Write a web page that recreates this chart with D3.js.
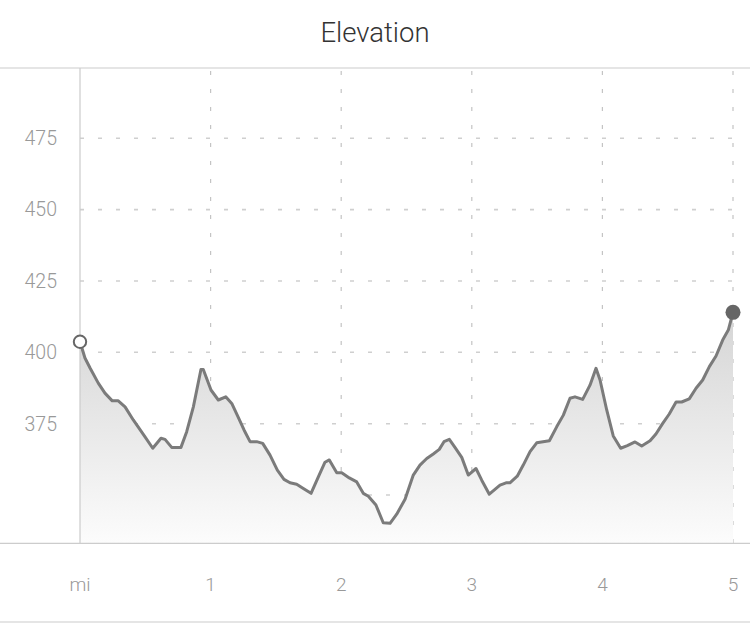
<!DOCTYPE html>
<html>
<head>
<meta charset="utf-8">
<script src="https://cdn.jsdelivr.net/npm/d3@7"></script>
<style>
  body { margin: 0; background: #fff; }
  text { font-family: Roboto, "Liberation Sans", sans-serif; }
</style>
</head>
<body>
<div id="chart"></div>
<script>
// distance along the route (miles) and elevation (ft)
var distance = [0, 0.038, 0.077, 0.140, 0.191, 0.247, 0.293, 0.345, 0.408, 0.498,
  0.557, 0.620, 0.651, 0.702, 0.773, 0.817, 0.868, 0.926, 0.944, 1.003,
  1.059, 1.116, 1.162, 1.212, 1.256, 1.302, 1.353, 1.399, 1.455, 1.511,
  1.562, 1.608, 1.659, 1.710, 1.769, 1.825, 1.876, 1.909, 1.966, 2.004,
  2.062, 2.119, 2.169, 2.208, 2.266, 2.322, 2.374, 2.425, 2.489, 2.552,
  2.603, 2.655, 2.705, 2.751, 2.787, 2.828, 2.871, 2.923, 2.973, 3.032,
  3.076, 3.134, 3.216, 3.262, 3.292, 3.348, 3.394, 3.446, 3.497, 3.594,
  3.650, 3.701, 3.752, 3.790, 3.849, 3.905, 3.951, 3.982, 4.033, 4.083,
  4.140, 4.191, 4.250, 4.301, 4.365, 4.410, 4.462, 4.512, 4.564, 4.607,
  4.665, 4.717, 4.768, 4.819, 4.870, 4.921, 4.964, 5.0];

var elevation = [403.7, 398.0, 394.5, 389.2, 385.7, 383.0, 383.0, 380.9, 376.3, 370.4,
  366.4, 369.9, 369.5, 366.7, 366.7, 372.2, 380.9, 394.0, 394.0, 386.8,
  383.3, 384.4, 382.1, 377.2, 372.8, 368.7, 368.7, 368.1, 364.0, 358.7,
  355.5, 354.3, 353.8, 352.3, 350.6, 356.4, 361.5, 362.3, 357.8, 357.8,
  356.0, 354.6, 350.6, 349.6, 346.5, 340.3, 340.1, 343.3, 348.5, 357.0,
  360.5, 362.8, 364.4, 366.0, 368.7, 369.5, 366.7, 363.2, 357.0, 359.3,
  355.2, 350.3, 353.5, 354.3, 354.3, 356.6, 360.5, 365.2, 368.3, 369.0,
  373.9, 378.0, 383.9, 384.4, 383.5, 388.5, 394.4, 390.3, 379.8, 370.7,
  366.4, 367.3, 368.6, 367.2, 369.0, 371.4, 375.1, 378.4, 382.6, 382.6,
  383.7, 387.4, 390.3, 395.0, 398.7, 404.3, 407.8, 414.0];

var xTicks = [0, 1, 2, 3, 4, 5];
var xTickLabels = ["mi", "1", "2", "3", "4", "5"];
var yGrid = [350, 375, 400, 425, 450, 475];
var yTickLabels = ["", "375", "400", "425", "450", "475"];

var data = distance.map(function(d, i) { return { d: d, e: elevation[i] }; });

var svgWidth = 750;
var svgHeight = 623;

var chartMargin = { top: 68, right: 17, bottom: 80, left: 80 };
var plotBottom = svgHeight - chartMargin.bottom + 0.3;

var svg = d3.select("#chart")
  .append("svg")
  .attr("width", svgWidth)
  .attr("height", svgHeight);

var xScale = d3.scaleLinear()
  .domain([0, 5])
  .range([chartMargin.left, svgWidth - chartMargin.right]);

var yScale = d3.scaleLinear()
  .domain([333.1, 499.6])
  .range([plotBottom, chartMargin.top]);

// title
svg.append("text")
  .attr("x", svgWidth / 2)
  .attr("y", 42)
  .attr("text-anchor", "middle")
  .attr("font-size", "27.5px")
  .attr("font-weight", 300)
  .attr("fill", "#333")
  .text("Elevation");

// gradient for the area under the line
var defs = svg.append("defs");
var grad = defs.append("linearGradient")
  .attr("id", "fillGrad")
  .attr("gradientUnits", "userSpaceOnUse")
  .attr("x1", 0).attr("x2", 0)
  .attr("y1", yScale(414)).attr("y2", plotBottom);
grad.append("stop").attr("offset", "0%").attr("stop-color", "#d5d5d5");
grad.append("stop").attr("offset", "100%").attr("stop-color", "#fcfcfc");

// horizontal grid lines (dashed)
svg.append("g")
  .selectAll("line")
  .data(yGrid)
  .enter()
  .append("line")
  .attr("x1", xScale(0))
  .attr("x2", xScale(5) + 2)
  .attr("y1", d => yScale(d))
  .attr("y2", d => yScale(d))
  .attr("stroke", "#cfcfcf")
  .attr("stroke-width", 1.6)
  .attr("stroke-dasharray", "4,14");

// vertical grid lines (dashed)
svg.append("g")
  .selectAll("line")
  .data(xTicks.slice(1))
  .enter()
  .append("line")
  .attr("x1", d => xScale(d))
  .attr("x2", d => xScale(d))
  .attr("y1", chartMargin.top + 3)
  .attr("y2", plotBottom)
  .attr("stroke", "#c4c4c4")
  .attr("stroke-width", 1.2)
  .attr("stroke-dasharray", "4,14");

// area + line
var area = d3.area()
  .x(d => xScale(d.d))
  .y0(plotBottom)
  .y1(d => yScale(d.e));

var line = d3.line()
  .x(d => xScale(d.d))
  .y(d => yScale(d.e));

svg.append("path")
  .datum(data)
  .attr("d", area)
  .attr("fill", "url(#fillGrad)");

svg.append("path")
  .datum(data)
  .attr("d", line)
  .attr("fill", "none")
  .attr("stroke", "#7b7b7b")
  .attr("stroke-width", 3)
  .attr("stroke-linejoin", "round");

// frame lines
svg.append("line")
  .attr("x1", 0).attr("x2", svgWidth)
  .attr("y1", chartMargin.top).attr("y2", chartMargin.top)
  .attr("stroke", "#cccccc").attr("stroke-width", 1.2);

svg.append("line")
  .attr("x1", 0).attr("x2", svgWidth)
  .attr("y1", plotBottom).attr("y2", plotBottom)
  .attr("stroke", "#cccccc").attr("stroke-width", 1.2);

svg.append("line")
  .attr("x1", 0).attr("x2", svgWidth)
  .attr("y1", 622).attr("y2", 622)
  .attr("stroke", "#cccccc").attr("stroke-width", 1.2);

svg.append("line")
  .attr("x1", xScale(0)).attr("x2", xScale(0))
  .attr("y1", chartMargin.top).attr("y2", plotBottom)
  .attr("stroke", "#cccccc").attr("stroke-width", 1.2);

// y labels
svg.append("g")
  .selectAll("text")
  .data(yGrid)
  .enter()
  .append("text")
  .attr("x", 57)
  .attr("y", d => yScale(d))
  .attr("dy", "0.35em")
  .attr("text-anchor", "end")
  .attr("font-size", "19.5px")
  .attr("font-weight", 300)
  .attr("fill", "#999")
  .text((d, i) => yTickLabels[i]);

// x labels
svg.append("g")
  .selectAll("text")
  .data(xTicks)
  .enter()
  .append("text")
  .attr("x", d => xScale(d))
  .attr("y", 584)
  .attr("dy", "0.35em")
  .attr("text-anchor", "middle")
  .attr("font-size", "19px")
  .attr("font-weight", 300)
  .attr("fill", "#999")
  .text((d, i) => xTickLabels[i]);

// start / end markers
var first = data[0];
var last = data[data.length - 1];

svg.append("circle")
  .attr("cx", xScale(first.d))
  .attr("cy", yScale(first.e))
  .attr("r", 6.2)
  .attr("fill", "#fff")
  .attr("stroke", "#666")
  .attr("stroke-width", 2);

svg.append("circle")
  .attr("cx", xScale(last.d))
  .attr("cy", yScale(last.e))
  .attr("r", 7.5)
  .attr("fill", "#666");
</script>
</body>
</html>
